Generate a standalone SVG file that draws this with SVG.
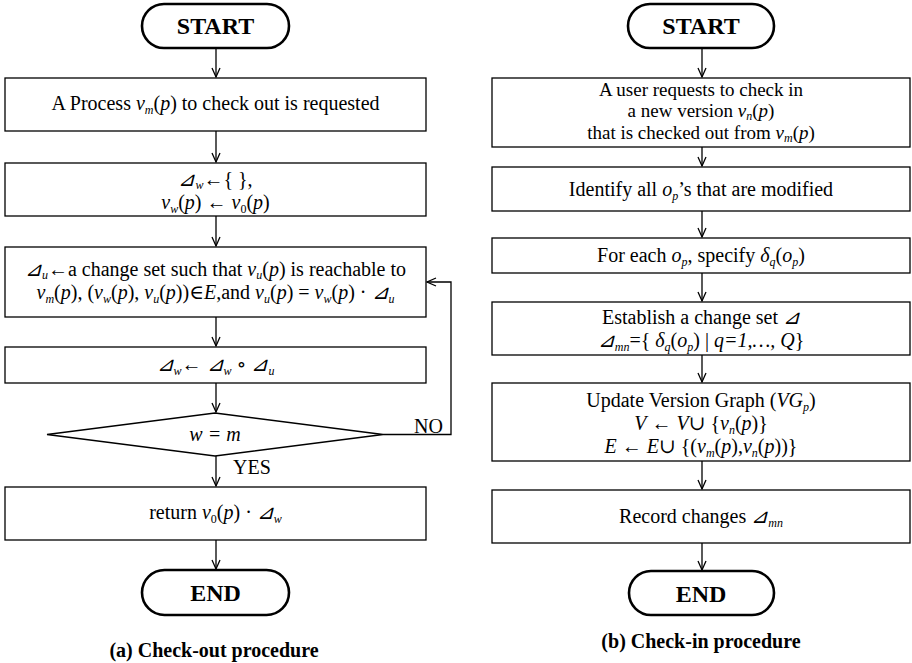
<svg xmlns="http://www.w3.org/2000/svg" width="912" height="663" viewBox="0 0 912 663">
<defs>
<style>
text{font-family:"Liberation Serif","Times New Roman","DejaVu Serif",serif;font-size:20px;fill:#000;text-anchor:middle}
.term{fill:#fff;stroke:#000;stroke-width:2.6}
.box{fill:#fff;stroke:#000;stroke-width:1.3}
.t{font-size:24px;font-weight:bold}
.i{font-style:italic}
.s{font-size:12px}
.cap{font-size:20px;font-weight:bold}
.lbl{text-anchor:start}
.r1{font-size:19px}
.ln{fill:none;stroke:#000;stroke-width:1.3}
</style>
<marker id="ah" markerUnits="userSpaceOnUse" markerWidth="12" markerHeight="12" refX="10" refY="5" orient="auto">
<path d="M1,1 L10,5 L1,9" fill="none" stroke="#000" stroke-width="1.3"/>
</marker>
</defs>

<g id="connectors">
<line class="ln" x1="216" y1="49" x2="216" y2="77" marker-end="url(#ah)"/>
<line class="ln" x1="216" y1="131" x2="216" y2="162" marker-end="url(#ah)"/>
<line class="ln" x1="216" y1="216" x2="216" y2="246" marker-end="url(#ah)"/>
<line class="ln" x1="216" y1="317" x2="216" y2="346" marker-end="url(#ah)"/>
<line class="ln" x1="216" y1="383" x2="216" y2="412" marker-end="url(#ah)"/>
<line class="ln" x1="216" y1="456" x2="216" y2="486" marker-end="url(#ah)"/>
<line class="ln" x1="216" y1="540" x2="216" y2="569" marker-end="url(#ah)"/>
<polyline class="ln" points="383,434.5 451,434.5 451,282 427,282" marker-end="url(#ah)"/>
<line class="ln" x1="702" y1="49" x2="702" y2="77" marker-end="url(#ah)"/>
<line class="ln" x1="702" y1="147" x2="702" y2="166" marker-end="url(#ah)"/>
<line class="ln" x1="702" y1="211" x2="702" y2="237" marker-end="url(#ah)"/>
<line class="ln" x1="702" y1="273" x2="702" y2="301" marker-end="url(#ah)"/>
<line class="ln" x1="702" y1="355" x2="702" y2="382" marker-end="url(#ah)"/>
<line class="ln" x1="702" y1="461" x2="702" y2="489" marker-end="url(#ah)"/>
<line class="ln" x1="702" y1="543" x2="702" y2="570" marker-end="url(#ah)"/>
<text class="lbl" x="414" y="433">NO</text>
<text class="lbl" x="233" y="474">YES</text>
</g>

<g id="a-start">
<rect class="term" x="142" y="4" width="147" height="44" rx="22"/>
<text class="t" x="215.5" y="34">START</text>
</g>
<g id="a-request">
<rect class="box" x="5" y="78" width="421" height="53"/>
<text x="215.5" y="110">A Process <tspan class="i">v</tspan><tspan class="i s" dy="4">m</tspan><tspan dy="-4">(</tspan><tspan class="i">p</tspan>) to check out is requested</text>
</g>
<g id="a-init">
<rect class="box" x="5" y="163" width="421" height="53"/>
<text x="215.5" y="186"><tspan class="i">⊿</tspan><tspan class="i s" dy="3">w</tspan><tspan dy="-3">←{ },</tspan></text>
<text x="215.5" y="209"><tspan class="i">v</tspan><tspan class="i s" dy="4">w</tspan><tspan dy="-4">(</tspan><tspan class="i">p</tspan>) ← <tspan class="i">v</tspan><tspan class="s" dy="4">0</tspan><tspan dy="-4">(</tspan><tspan class="i">p</tspan>)</text>
</g>
<g id="a-changeset">
<rect class="box" x="5" y="247" width="421" height="70"/>
<text x="215.5" y="276"><tspan class="i">⊿</tspan><tspan class="i s" dy="3">u</tspan><tspan dy="-3">←a change set such that </tspan><tspan class="i">v</tspan><tspan class="i s" dy="3">u</tspan><tspan dy="-3">(</tspan><tspan class="i">p</tspan>) is reachable to</text>
<text x="215.5" y="299"><tspan class="i">v</tspan><tspan class="i s" dy="4">m</tspan><tspan dy="-4">(</tspan><tspan class="i">p</tspan>),  (<tspan class="i">v</tspan><tspan class="i s" dy="4">w</tspan><tspan dy="-4">(</tspan><tspan class="i">p</tspan>), <tspan class="i">v</tspan><tspan class="i s" dy="4">u</tspan><tspan dy="-4">(</tspan><tspan class="i">p</tspan>))∈<tspan class="i">E</tspan>,and <tspan class="i">v</tspan><tspan class="i s" dy="4">u</tspan><tspan dy="-4">(</tspan><tspan class="i">p</tspan>) = <tspan class="i">v</tspan><tspan class="i s" dy="4">w</tspan><tspan dy="-4">(</tspan><tspan class="i">p</tspan>) · <tspan class="i">⊿</tspan><tspan class="i s" dy="4">u</tspan></text>
</g>
<g id="a-compose">
<rect class="box" x="5" y="347" width="421" height="36"/>
<text x="215.5" y="371"><tspan class="i">⊿</tspan><tspan class="i s" dy="4">w</tspan><tspan dy="-4">← </tspan><tspan class="i">⊿</tspan><tspan class="i s" dy="4">w</tspan><tspan dy="-4"> ∘ </tspan><tspan class="i">⊿</tspan><tspan class="i s" dy="4">u</tspan></text>
</g>
<g id="a-decision">
<polygon class="box" points="215,413 383,434.5 215,456 47,434.5"/>
<text class="i" x="215" y="441">w = m</text>
</g>
<g id="a-return">
<rect class="box" x="5" y="487" width="421" height="53"/>
<text x="215.5" y="519">return <tspan class="i">v</tspan><tspan class="s" dy="4">0</tspan><tspan dy="-4">(</tspan><tspan class="i">p</tspan>) · <tspan class="i">⊿</tspan><tspan class="i s" dy="4">w</tspan></text>
</g>
<g id="a-end">
<rect class="term" x="142" y="570" width="147" height="45" rx="22.5"/>
<text class="t" x="215.5" y="601">END</text>
</g>
<text class="cap" x="214" y="657">(a) Check-out procedure</text>

<g id="b-start">
<rect class="term" x="628" y="4" width="146" height="44" rx="22"/>
<text class="t" x="701" y="34">START</text>
</g>
<g id="b-request">
<rect class="box" x="492" y="78" width="418" height="69"/>
<text class="r1" x="701" y="96">A user requests to check in</text>
<text class="r1" x="701" y="117">a new version <tspan class="i">v</tspan><tspan class="i s" dy="3">n</tspan><tspan dy="-3">(</tspan><tspan class="i">p</tspan>)</text>
<text class="r1" x="701" y="139">that is checked out from <tspan class="i">v</tspan><tspan class="i s" dy="3">m</tspan><tspan dy="-3">(</tspan><tspan class="i">p</tspan>)</text>
</g>
<g id="b-identify">
<rect class="box" x="492" y="167" width="418" height="44"/>
<text x="701" y="196">Identify all <tspan class="i">o</tspan><tspan class="i s" dy="4">p</tspan><tspan dy="-4">’s that are modified</tspan></text>
</g>
<g id="b-specify">
<rect class="box" x="492" y="238" width="418" height="35"/>
<text x="701" y="262">For each <tspan class="i">o</tspan><tspan class="i s" dy="4">p</tspan><tspan dy="-4">, specify </tspan><tspan class="i">δ</tspan><tspan class="i s" dy="4">q</tspan><tspan dy="-4">(</tspan><tspan class="i">o</tspan><tspan class="i s" dy="4">p</tspan><tspan dy="-4">)</tspan></text>
</g>
<g id="b-establish">
<rect class="box" x="492" y="302" width="418" height="53"/>
<text x="701" y="324">Establish a change set <tspan class="i">⊿</tspan></text>
<text x="701" y="347"><tspan class="i">⊿</tspan><tspan class="i s" dy="4">mn</tspan><tspan dy="-4">={ </tspan><tspan class="i">δ</tspan><tspan class="i s" dy="4">q</tspan><tspan dy="-4">(</tspan><tspan class="i">o</tspan><tspan class="i s" dy="4">p</tspan><tspan dy="-4">) | </tspan><tspan class="i">q=1,…, Q</tspan>}</text>
</g>
<g id="b-update">
<rect class="box" x="492" y="383" width="418" height="78"/>
<text x="701" y="407">Update Version Graph (<tspan class="i">VG</tspan><tspan class="i s" dy="4">p</tspan><tspan dy="-4">)</tspan></text>
<text x="701" y="430"><tspan class="i">V</tspan> ← <tspan class="i">V</tspan>∪ {<tspan class="i">v</tspan><tspan class="i s" dy="4">n</tspan><tspan dy="-4">(</tspan><tspan class="i">p</tspan>)}</text>
<text x="701" y="453"><tspan class="i">E</tspan> ← <tspan class="i">E</tspan>∪ {(<tspan class="i">v</tspan><tspan class="i s" dy="4">m</tspan><tspan dy="-4">(</tspan><tspan class="i">p</tspan>),<tspan class="i">v</tspan><tspan class="i s" dy="4">n</tspan><tspan dy="-4">(</tspan><tspan class="i">p</tspan>))}</text>
</g>
<g id="b-record">
<rect class="box" x="492" y="490" width="418" height="53"/>
<text x="701" y="523">Record changes <tspan class="i">⊿</tspan><tspan class="i s" dy="4">mn</tspan></text>
</g>
<g id="b-end">
<rect class="term" x="629" y="571" width="145" height="44" rx="22"/>
<text class="t" x="701" y="602">END</text>
</g>
<text class="cap" x="701" y="648">(b) Check-in procedure</text>
</svg>
